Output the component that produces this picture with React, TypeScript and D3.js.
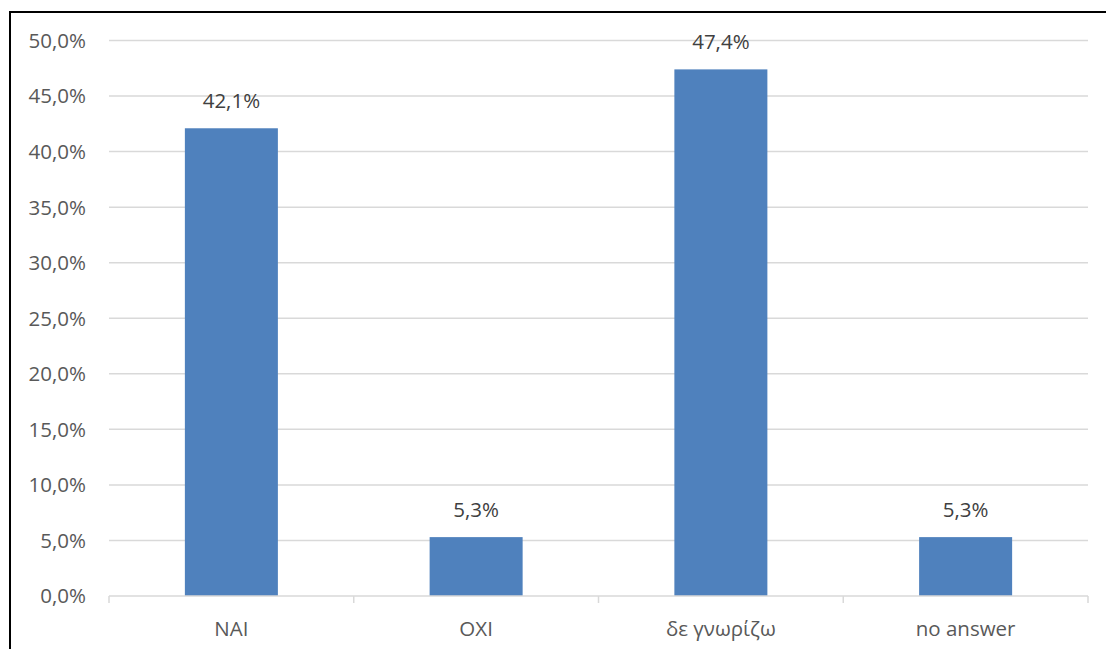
import React, { useEffect, useRef } from 'react';
import * as d3 from 'd3';

const categories = ['NAI', 'OXI', 'δε γνωρίζω', 'no answer'];
const values = [42.1, 5.3, 47.4, 5.3];
const yTicks = [0, 5, 10, 15, 20, 25, 30, 35, 40, 45, 50];

const fmt = (v: number) => v.toFixed(1).replace('.', ',') + '%';

const App = () => {
	const ref = useRef<SVGSVGElement>(null);
	useEffect(() => {
		const width = 1106;
		const height = 649;
		const left = 109, right = 1088, top = 40.5, bottom = 596;
		const svg = d3.select(ref.current);
		svg.selectAll('*').remove();
		svg.append('rect').attr('width', width).attr('height', height).attr('fill', '#fff');
		svg.append('rect')
			.attr('x', 10).attr('y', 12)
			.attr('width', width).attr('height', height)
			.attr('fill', 'none').attr('stroke', '#000').attr('stroke-width', 2);

		const x = d3.scaleBand().domain(categories).range([left, right]).paddingInner(0).paddingOuter(0);
		const y = d3.scaleLinear().domain([0, 50]).range([bottom, top]);
		const font = '"Open Sans", sans-serif';
		const fs = 20.5;

		svg.append('g').selectAll('line')
			.data(yTicks.filter((t) => t > 0))
			.enter().append('line')
			.attr('x1', left).attr('x2', right)
			.attr('y1', (d) => y(d)).attr('y2', (d) => y(d))
			.attr('stroke', '#d9d9d9').attr('stroke-width', 1.5);

		svg.append('g').selectAll('text')
			.data(yTicks)
			.enter().append('text')
			.attr('x', 86).attr('y', (d) => y(d))
			.attr('dy', '0.36em')
			.attr('text-anchor', 'end')
			.attr('font-family', font).attr('font-size', fs)
			.attr('fill', '#595959')
			.text((d) => fmt(d));

		const bw = x.bandwidth() * 0.38;
		svg.append('g').selectAll('rect')
			.data(values)
			.enter().append('rect')
			.attr('x', (d, i) => x(categories[i])! + (x.bandwidth() - bw) / 2)
			.attr('y', (d) => y(d))
			.attr('width', bw)
			.attr('height', (d) => y(0) - y(d))
			.attr('fill', '#4f81bd');

		svg.append('g').selectAll('text')
			.data(values)
			.enter().append('text')
			.attr('x', (d, i) => x(categories[i])! + x.bandwidth() / 2)
			.attr('y', (d) => y(d) - 20)
			.attr('text-anchor', 'middle')
			.attr('font-family', font).attr('font-size', fs)
			.attr('fill', '#404040')
			.text((d) => fmt(d));

		const axis = svg.append('g');
		axis.append('line')
			.attr('x1', left).attr('x2', right)
			.attr('y1', bottom).attr('y2', bottom)
			.attr('stroke', '#d9d9d9').attr('stroke-width', 1.5);
		const bounds = categories.map((c) => x(c)!).concat([right]);
		axis.selectAll('line.tick')
			.data(bounds)
			.enter().append('line')
			.attr('class', 'tick')
			.attr('x1', (d) => d).attr('x2', (d) => d)
			.attr('y1', bottom).attr('y2', bottom + 7)
			.attr('stroke', '#d9d9d9').attr('stroke-width', 1.5);
		axis.selectAll('text')
			.data(categories)
			.enter().append('text')
			.attr('x', (d) => x(d)! + x.bandwidth() / 2)
			.attr('y', 636)
			.attr('text-anchor', 'middle')
			.attr('font-family', font).attr('font-size', fs)
			.attr('fill', '#595959')
			.text((d) => d);
	}, []);
	return (
		<svg ref={ref} width={1106} height={649} style={{ position: 'absolute', left: 0, top: 0 }} />
	);
};

export default App;
